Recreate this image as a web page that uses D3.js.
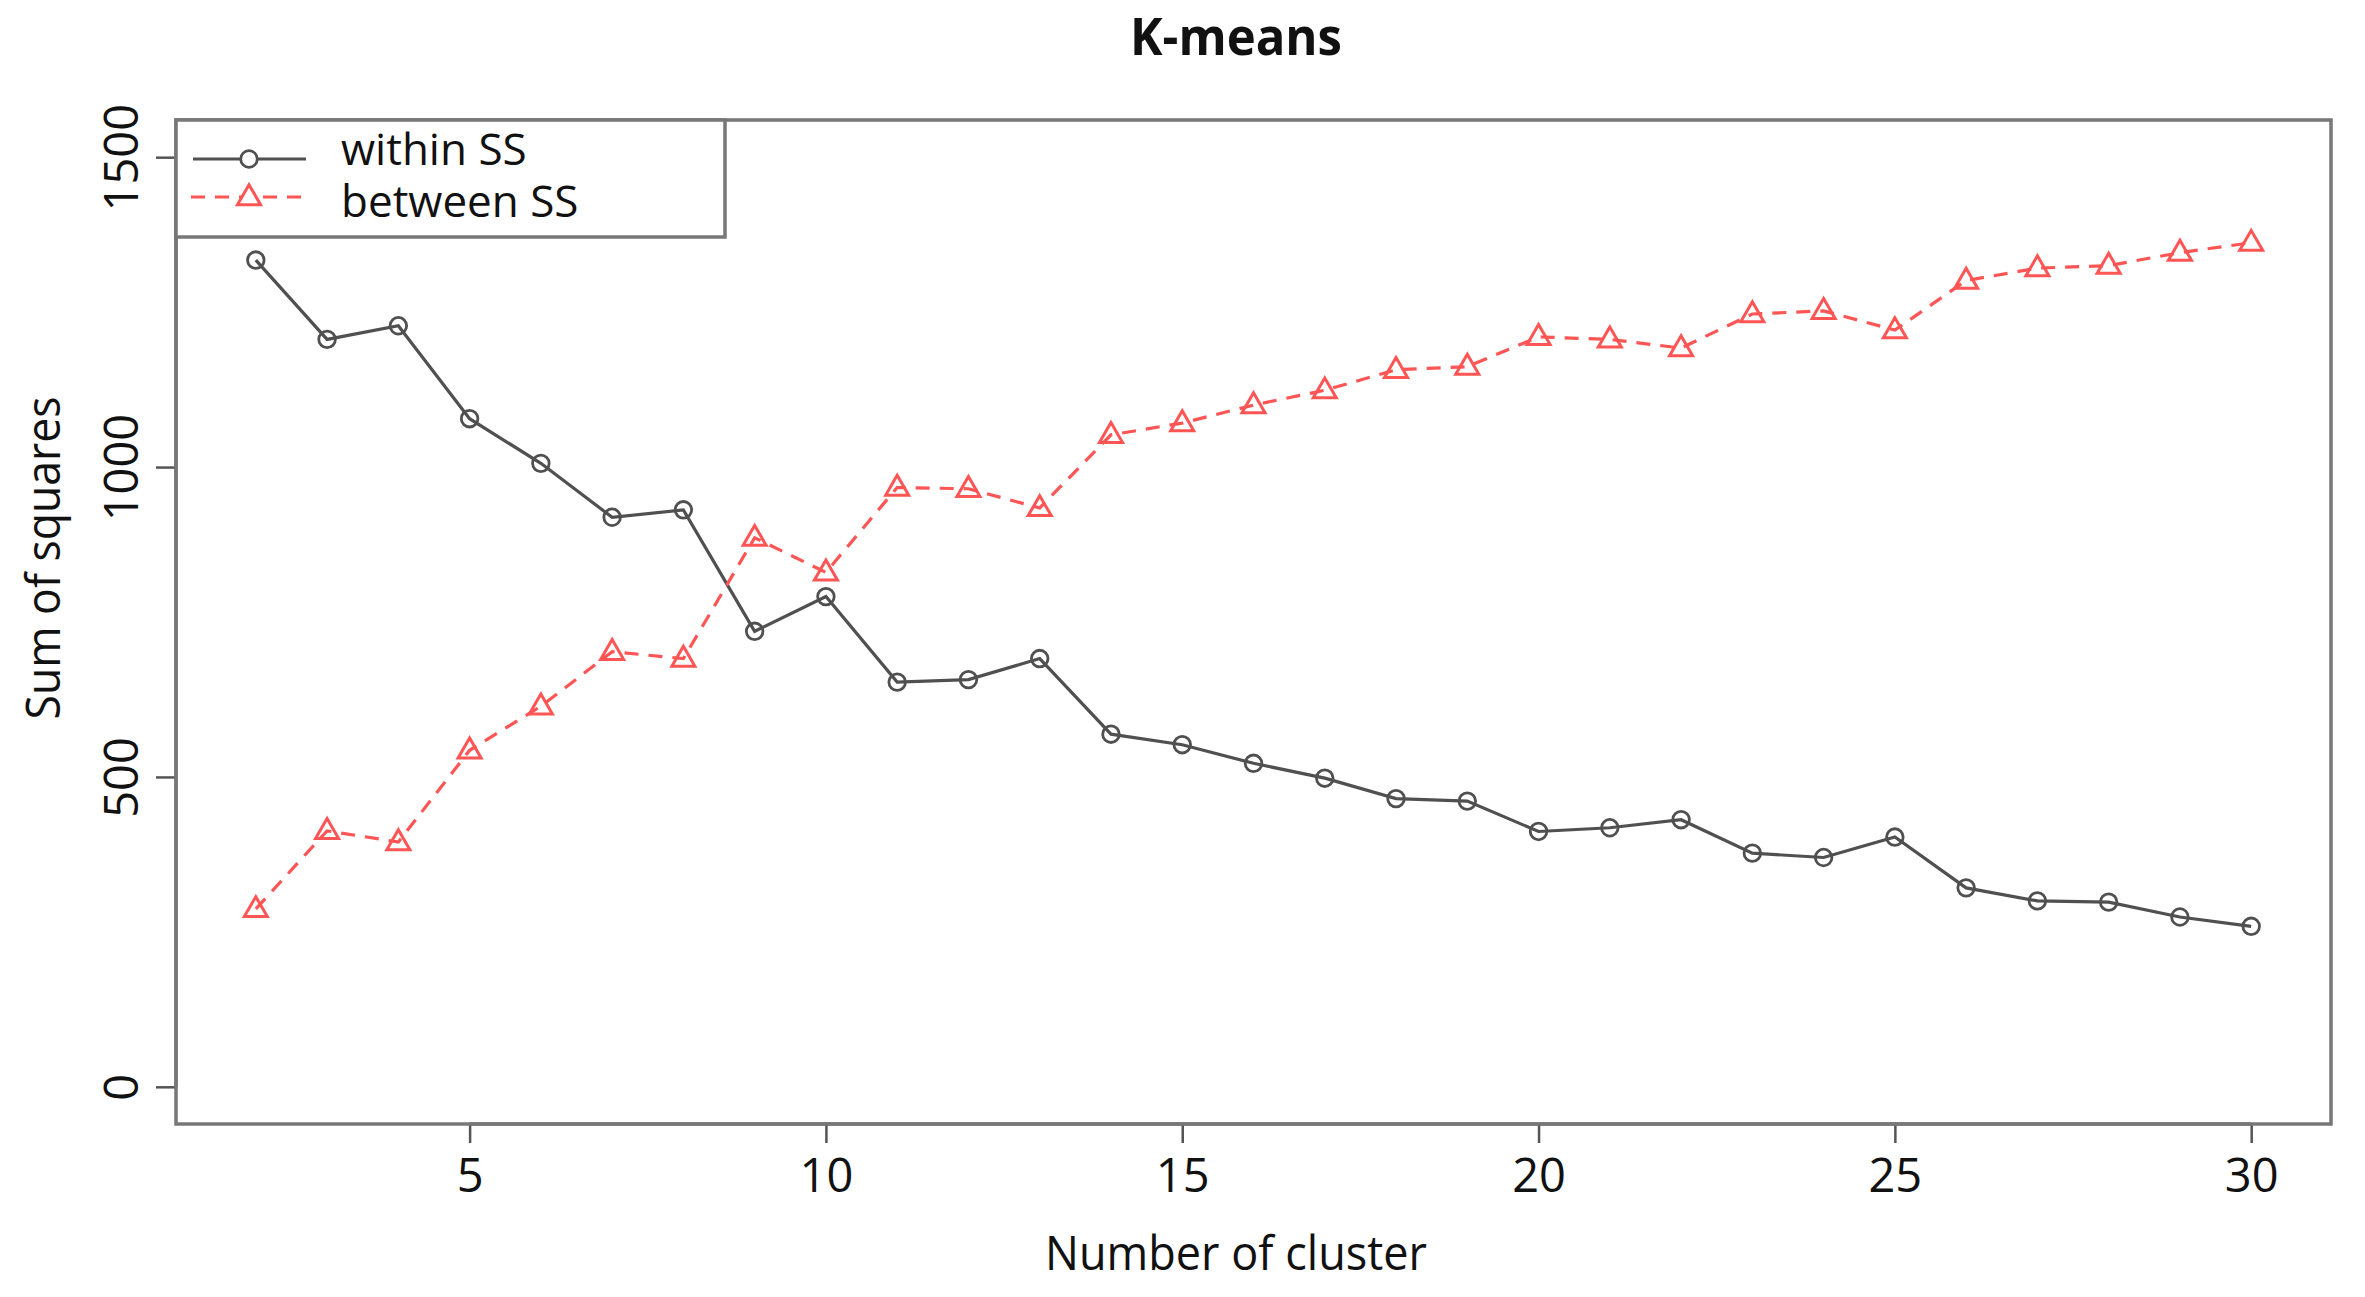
<!DOCTYPE html>
<html>
<head>
<meta charset="utf-8">
<script src="https://cdn.jsdelivr.net/npm/d3@7/dist/d3.min.js"></script>
<style>
  html, body { margin: 0; padding: 0; background: #fff; }
  svg { display: block; }
  text { font-family: "Open Sans", "Noto Sans", sans-serif; fill: #111; }
</style>
</head>
<body>
<svg id="chart" width="2365" height="1297"></svg>
<script>
// ---- data ----
const clusters = [2,3,4,5,6,7,8,9,10,11,12,13,14,15,16,17,18,19,20,21,22,23,24,25,26,27,28,29,30];
const withinSS = [1334,1206,1228,1078,1006,919,931,735,791,653,657,691,569,552,522,498,465,461,412,418,431,377,370,403,321,300,298,274,259];
const betweenSS = [287,413,395,543,614,702,691,886,830,967,965,934,1052,1071,1100,1124,1157,1162,1210,1206,1192,1247,1252,1221,1301,1321,1325,1346,1362];
const xTicks = [5,10,15,20,25,30];
const yTicks = [0,500,1000,1500];
const legendLabels = ["within SS", "between SS"];
const titleText = "K-means";
const xLabel = "Number of cluster";
const yLabel = "Sum of squares";

// ---- layout ----
const svg = d3.select("#chart");
const L = 176, R = 2331, T = 120, B = 1124;
const x = d3.scaleLinear().domain([0.88, 31.12]).range([L, R]);
const y = d3.scaleLinear().domain([-60, 1560]).range([B, T]);
const cx = 1236;
const grayLine = "#505050";
const red = "#ff5555";

// title
svg.append("text").attr("x", cx).attr("y", 55).attr("text-anchor", "middle")
  .attr("font-size", 52).attr("font-weight", "bold")
  .attr("textLength", 212).attr("lengthAdjust", "spacingAndGlyphs")
  .text(titleText);

// axes
const xAxis = d3.axisBottom(x).tickValues(xTicks).tickSize(19).tickPadding(16).tickFormat(d3.format("d"));
const gx = svg.append("g").attr("transform", `translate(0,${B})`).call(xAxis);
gx.select(".domain").attr("d", `M${x(xTicks[0])},0H${x(xTicks[xTicks.length-1])}`)
  .attr("stroke", "#333").attr("stroke-width", 3);
gx.selectAll(".tick line").attr("stroke", "#555").attr("stroke-width", 2.5);
gx.selectAll(".tick text").attr("font-size", 47).attr("fill", "#111")
  .attr("font-family", "Open Sans").attr("dy", "0.71em");

const yAxis = d3.axisLeft(y).tickValues(yTicks).tickSize(20).tickFormat(d3.format("d"));
const gy = svg.append("g").attr("transform", `translate(${L},0)`).call(yAxis);
gy.select(".domain").attr("d", `M0,${y(yTicks[0])}V${y(yTicks[yTicks.length-1])}`)
  .attr("stroke", "#333").attr("stroke-width", 3);
gy.selectAll(".tick line").attr("stroke", "#555").attr("stroke-width", 2.5);
gy.selectAll(".tick text").attr("font-size", 47).attr("fill", "#111")
  .attr("font-family", "Open Sans")
  .attr("x", null).attr("dy", null)
  .attr("text-anchor", "middle")
  .attr("transform", "translate(-38,0) rotate(-90)")
  .attr("y", 0);

// plot box
svg.append("rect").attr("x", L).attr("y", T).attr("width", R - L).attr("height", B - T)
  .attr("fill", "none").attr("stroke", "#777").attr("stroke-width", 3.5);

// axis labels
svg.append("text").attr("x", cx).attr("y", 1270).attr("text-anchor", "middle")
  .attr("font-size", 47).attr("textLength", 382).attr("lengthAdjust", "spacingAndGlyphs")
  .text(xLabel);
svg.append("text").attr("transform", `translate(60,558) rotate(-90)`).attr("text-anchor", "middle")
  .attr("font-size", 47).attr("textLength", 323).attr("lengthAdjust", "spacingAndGlyphs")
  .text(yLabel);

// lines
const lineW = d3.line().x((d, i) => x(clusters[i])).y(d => y(d));
svg.append("path").datum(withinSS).attr("d", lineW)
  .attr("fill", "none").attr("stroke", grayLine).attr("stroke-width", 3.2);
svg.append("path").datum(betweenSS).attr("d", lineW)
  .attr("fill", "none").attr("stroke", red).attr("stroke-width", 3.2)
  .attr("stroke-dasharray", "14,10");

// markers
const tri = d3.symbol().type(d3.symbolTriangle).size(230);
svg.append("g").selectAll("circle").data(withinSS).join("circle")
  .attr("cx", (d, i) => x(clusters[i])).attr("cy", d => y(d)).attr("r", 8.3)
  .attr("fill", "none").attr("stroke", grayLine).attr("stroke-width", 2.8);
svg.append("g").selectAll("path").data(betweenSS).join("path")
  .attr("d", tri)
  .attr("transform", (d, i) => `translate(${x(clusters[i])},${y(d) + 1})`)
  .attr("fill", "none").attr("stroke", red).attr("stroke-width", 3);

// legend
const lg = svg.append("g");
lg.append("rect").attr("x", L).attr("y", T).attr("width", 549).attr("height", 117)
  .attr("fill", "#fff").attr("stroke", "#777").attr("stroke-width", 3.5);
lg.append("line").attr("x1", 193).attr("x2", 306).attr("y1", 159).attr("y2", 159)
  .attr("stroke", grayLine).attr("stroke-width", 3.2);
lg.append("circle").attr("cx", 249).attr("cy", 159).attr("r", 8.3)
  .attr("fill", "#fff").attr("stroke", grayLine).attr("stroke-width", 2.8);
lg.append("line").attr("x1", 191).attr("x2", 306).attr("y1", 197).attr("y2", 197)
  .attr("stroke", red).attr("stroke-width", 3.2).attr("stroke-dasharray", "14,10");
lg.append("path").attr("d", tri).attr("transform", "translate(249,198)")
  .attr("fill", "#fff").attr("stroke", red).attr("stroke-width", 3);
lg.selectAll("text.leg").data(legendLabels).join("text").attr("class", "leg")
  .attr("x", 341).attr("y", (d, i) => 165 + i * 52)
  .attr("font-size", 44).attr("fill", "#222")
  .text(d => d);
</script>
</body>
</html>
